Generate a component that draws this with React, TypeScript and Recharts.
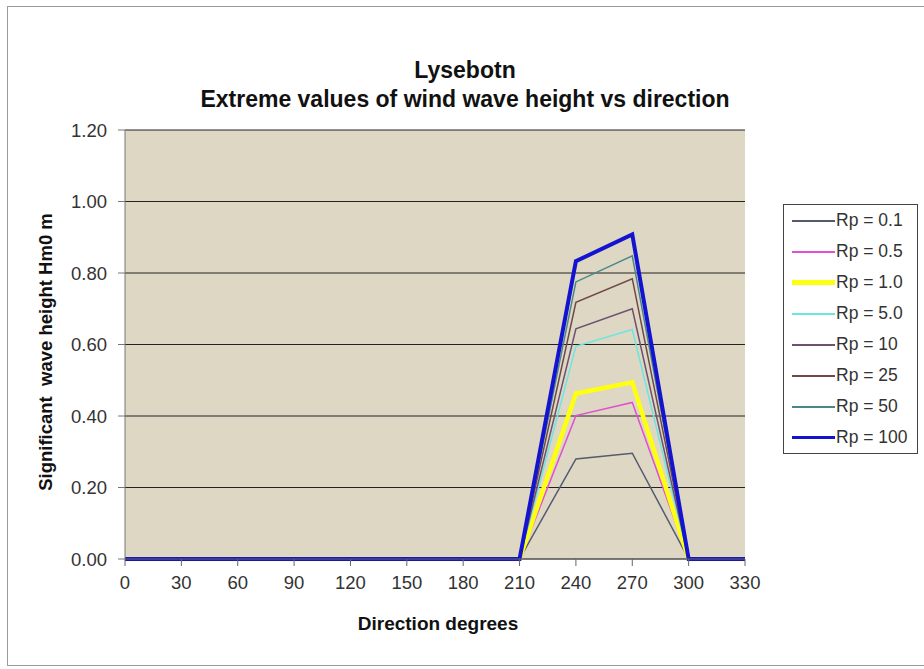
import { LineChart, Line, XAxis, YAxis, CartesianGrid } from 'recharts'

const directions = [0, 30, 60, 90, 120, 150, 180, 210, 240, 270, 300, 330]

const rp01 = [0, 0, 0, 0, 0, 0, 0, 0, 0.28, 0.296, 0, 0]
const rp05 = [0, 0, 0, 0, 0, 0, 0, 0, 0.401, 0.438, 0, 0]
const rp1 = [0, 0, 0, 0, 0, 0, 0, 0, 0.463, 0.494, 0, 0]
const rp5 = [0, 0, 0, 0, 0, 0, 0, 0, 0.595, 0.642, 0, 0]
const rp10 = [0, 0, 0, 0, 0, 0, 0, 0, 0.644, 0.7, 0, 0]
const rp25 = [0, 0, 0, 0, 0, 0, 0, 0, 0.718, 0.784, 0, 0]
const rp50 = [0, 0, 0, 0, 0, 0, 0, 0, 0.775, 0.848, 0, 0]
const rp100 = [0, 0, 0, 0, 0, 0, 0, 0, 0.833, 0.908, 0, 0]

const yTicks = [0, 0.2, 0.4, 0.6, 0.8, 1.0, 1.2]

const series = [
    { key: 'rp01', name: 'Rp = 0.1', values: rp01, color: '#555a70', width: 1.5 },
    { key: 'rp05', name: 'Rp = 0.5', values: rp05, color: '#e050d0', width: 1.5 },
    { key: 'rp1', name: 'Rp = 1.0', values: rp1, color: '#ffff10', width: 4.5 },
    { key: 'rp5', name: 'Rp = 5.0', values: rp5, color: '#6ee6e0', width: 1.5 },
    { key: 'rp10', name: 'Rp = 10', values: rp10, color: '#705070', width: 1.5 },
    { key: 'rp25', name: 'Rp = 25', values: rp25, color: '#704848', width: 1.5 },
    { key: 'rp50', name: 'Rp = 50', values: rp50, color: '#488888', width: 1.5 },
    { key: 'rp100', name: 'Rp = 100', values: rp100, color: '#1414d0', width: 4 },
]

const data = directions.map((d, i) => {
    const row: Record<string, number> = { dir: d }
    series.forEach((s) => {
        row[s.key] = s.values[i]
    })
    return row
})

const font = '"Liberation Sans", Arial, sans-serif'

function LegendBox() {
    return (
        <div
            style={{
                position: 'absolute',
                left: 783,
                top: 204,
                width: 135,
                height: 250,
                border: '1px solid #444',
                background: '#fff',
                boxSizing: 'border-box',
                fontFamily: font,
                fontSize: 17.5,
                color: '#333',
            }}
        >
            {series.map((s) => (
                <div key={s.key} style={{ display: 'flex', alignItems: 'center', height: 31, paddingLeft: 8 }}>
                    <div style={{ width: 43, height: s.width > 2 ? s.width * 0.9 : 2, background: s.color }} />
                    <span style={{ marginLeft: 1 }}>{s.name}</span>
                </div>
            ))}
        </div>
    )
}

export default function App() {
    return (
        <div style={{ position: 'absolute', left: 0, top: 0, width: 924, height: 669, background: '#fff', overflow: 'hidden' }}>
            {/* outer frame */}
            <div
                style={{
                    position: 'absolute',
                    left: 7,
                    top: 6,
                    width: 940,
                    height: 660,
                    border: '1px solid #9a9a9a',
                    boxSizing: 'border-box',
                }}
            />
            <div
                style={{
                    position: 'absolute',
                    left: 0,
                    top: 56,
                    width: 930,
                    textAlign: 'center',
                    fontFamily: font,
                    fontWeight: 'bold',
                    fontSize: 23,
                    lineHeight: '29px',
                    color: '#111',
                }}
            >
                Lysebotn
                <br />
                Extreme values of wind wave height vs direction
            </div>
            <div
                style={{
                    position: 'absolute',
                    left: 238,
                    top: 612,
                    width: 400,
                    textAlign: 'center',
                    fontFamily: font,
                    fontWeight: 'bold',
                    fontSize: 19,
                    lineHeight: '24px',
                    color: '#111',
                }}
            >
                Direction degrees
            </div>
            <div
                style={{
                    position: 'absolute',
                    left: 46 - 200,
                    top: 352 - 12,
                    width: 400,
                    height: 24,
                    textAlign: 'center',
                    transform: 'rotate(-90deg)',
                    fontFamily: font,
                    fontWeight: 'bold',
                    fontSize: 18.5,
                    lineHeight: '24px',
                    color: '#111',
                    whiteSpace: 'pre',
                }}
            >
                {'Significant  wave height Hm0 m'}
            </div>
            <div style={{ position: 'absolute', left: 0, top: 0 }}>
                <LineChart
                    width={924}
                    height={669}
                    data={data}
                    margin={{ top: 130, right: 179, bottom: 80, left: 65 }}
                >
                    <CartesianGrid
                        horizontal
                        vertical={false}
                        stroke="#222"
                        strokeWidth={1}
                        fill="#ddd7c4"
                    />
                    <XAxis
                        dataKey="dir"
                        type="number"
                        domain={[0, 330]}
                        ticks={directions}
                        interval={0}
                        stroke="#666"
                        tickSize={7}
                        tickMargin={10}
                        tick={{ fill: '#333', fontSize: 18.5, fontFamily: font }}
                    />
                    <YAxis
                        type="number"
                        domain={[0, 1.2]}
                        ticks={yTicks}
                        interval={0}
                        width={60}
                        stroke="#777"
                        tickSize={7}
                        tickMargin={11}
                        tickFormatter={(v: number) => v.toFixed(2)}
                        tick={{ fill: '#333', fontSize: 18.5, fontFamily: font }}
                    />
                    {series.map((s) => (
                        <Line
                            key={s.key}
                            type="linear"
                            dataKey={s.key}
                            name={s.name}
                            stroke={s.color}
                            strokeWidth={s.width}
                            dot={false}
                            activeDot={false}
                            isAnimationActive={false}
                        />
                    ))}
                </LineChart>
            </div>
            <LegendBox />
        </div>
    )
}
